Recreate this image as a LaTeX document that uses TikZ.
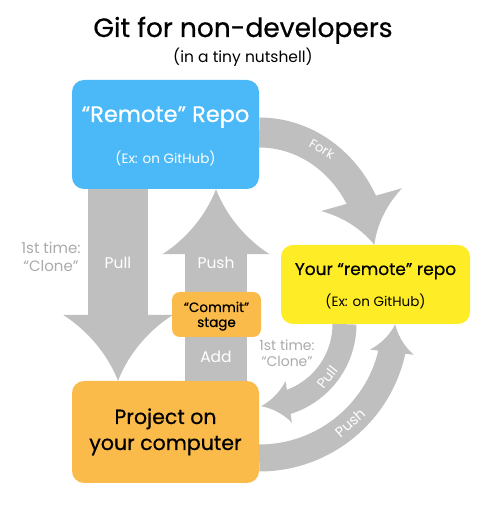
\documentclass[tikz,border=0pt]{standalone}
\usepackage{fontspec}
\setmainfont{Poppins}
\newfontfamily\heavyfont{Poppins}[FakeBold=0.6]
\usetikzlibrary{arrows.meta,bending}

\definecolor{repoblue}{HTML}{4BB9F7}
\definecolor{repoyellow}{HTML}{FEEC26}
\definecolor{localorange}{HTML}{FBBB4A}
\definecolor{arrowgrey}{HTML}{BFBFBF}
\definecolor{notegrey}{HTML}{ABABAB}

% fat arrow head with hollow sides
\pgfdeclarearrow{
  name = Chunky,
  parameters = {\the\pgfarrowlength,\the\pgfarrowwidth},
  setup code = {
    \pgfarrowssettipend{\pgfarrowlength}
    \pgfarrowssetlineend{.15\pgfarrowlength}
    \pgfarrowssetbackend{0pt}
    \pgfarrowshullpoint{\pgfarrowlength}{0pt}
    \pgfarrowsupperhullpoint{0pt}{.5\pgfarrowwidth}
    \pgfarrowssavethe\pgfarrowlength
    \pgfarrowssavethe\pgfarrowwidth
  },
  drawing code = {
    \pgfpathmoveto{\pgfqpoint{\pgfarrowlength}{0pt}}
    \pgfpathcurveto{\pgfqpoint{.7\pgfarrowlength}{.07\pgfarrowwidth}}
      {\pgfqpoint{.3\pgfarrowlength}{.22\pgfarrowwidth}}
      {\pgfqpoint{0pt}{.5\pgfarrowwidth}}
    \pgfpathlineto{\pgfqpoint{0pt}{-.5\pgfarrowwidth}}
    \pgfpathcurveto{\pgfqpoint{.3\pgfarrowlength}{-.22\pgfarrowwidth}}
      {\pgfqpoint{.7\pgfarrowlength}{-.07\pgfarrowwidth}}
      {\pgfqpoint{\pgfarrowlength}{0pt}}
    \pgfpathclose
    \pgfusepathqfill
  },
  defaults = {length=40pt, width=80pt}
}

\begin{document}
\begin{tikzpicture}[
  x=1pt, y=1pt,
  box/.style={rounded corners=12pt,inner sep=0pt},
  flow/.style={draw=arrowgrey,line width=#1},
  lbl/.style={inner sep=0pt,anchor=base},
  on arrow/.style={inner sep=0pt,text=white,font=\fontsize{15.5}{18}\selectfont},
  note/.style={inner sep=0pt,anchor=base,text=notegrey,font=\fontsize{15}{18}\selectfont}
]
  \fill[white] (0,0) rectangle (488,525);
  \useasboundingbox (0,0) rectangle (488,525);

  \node[lbl,font=\heavyfont\fontsize{26.5}{30}\selectfont] (title) at (243,488) {Git for non-developers};
  \node[lbl,font=\fontsize{15.5}{18}\selectfont] (subtitle) at (243,462) {(in a tiny nutshell)};

  \node[box,fill=repoblue,minimum width=187pt,minimum height=109pt] (remote) at (165.5,390.5) {};
  \node[box,fill=repoyellow,minimum width=189pt,minimum height=79pt] (yours) at (375.5,240.5) {};
  \node[box,fill=localorange,minimum width=187pt,minimum height=102pt] (project) at (165.5,93) {};

  \coordinate (pullx) at (118,0);
  \coordinate (pushx) at (216,0);

  \draw[flow=60pt,-{Chunky[length=66pt,width=110pt]}] (remote.south -| pullx) -- (project.north -| pullx);
  \draw[flow=62pt,-{Chunky[length=65pt,width=107pt]}] (project.north -| pushx) -- (remote.south -| pushx);
  \draw[flow=30pt,-{Chunky[length=47pt,width=84pt]}] ([yshift=2pt]remote.east)
    arc[start angle=90,end angle=7,x radius=116,y radius=128];
  \draw[flow=24pt,-{Chunky[length=28pt,width=42pt]}] ([xshift=-31pt]yours.south)
    arc[start angle=0,end angle=-91,radius=82];
  \draw[flow=27pt,-{Chunky[length=28pt,width=44pt]}] ([yshift=-26pt]project.east)
    arc[start angle=270,end angle=359,radius=136];

  \node[box,rounded corners=8pt,fill=localorange,minimum width=89pt,minimum height=45pt] (commit) at (216.5,210.5) {};

  % texts in the boxes
  \node[lbl,text=white,font=\heavyfont\fontsize{22.5}{26}\selectfont] (remotename) at (165.5,403) {“Remote” Repo};
  \node[lbl,text=white,font=\fontsize{13.5}{16}\selectfont] (remoteex) at (165.5,361) {(Ex: on GitHub)};
  \node[lbl,font=\heavyfont\fontsize{17}{20}\selectfont] (yoursname) at (375.5,250) {Your “remote” repo};
  \node[lbl,font=\fontsize{13.5}{16}\selectfont] (yoursex) at (375.5,218) {(Ex: on GitHub)};
  \node[lbl,font=\heavyfont\fontsize{20.5}{24}\selectfont] (projecta) at (165.5,101) {Project on};
  \node[lbl,font=\heavyfont\fontsize{20.5}{24}\selectfont] (projectb) at (165.5,75) {your computer};
  \node[lbl,font=\heavyfont\fontsize{13.5}{16}\selectfont] (commita) at (216.5,213) {“Commit”};
  \node[lbl,font=\heavyfont\fontsize{13.5}{16}\selectfont] (commitb) at (216.5,198) {stage};

  % texts on the arrows
  \node[on arrow,anchor=base] (pulltext) at (118,256) {Pull};
  \node[on arrow,anchor=base] (pushtext) at (216,256) {Push};
  \node[on arrow,anchor=base] (addtext) at (216,162) {Add};
  \node[on arrow,font=\fontsize{13}{15}\selectfont,rotate=-30] (forktext) at (322,376) {Fork};
  \node[on arrow,font=\fontsize{14}{16}\selectfont,rotate=52] (pullbend) at (327,148) {Pull};
  \node[on arrow,font=\fontsize{14.5}{17}\selectfont,rotate=42] (pushbend) at (350,102) {Push};

  \node[note] (clonea) at (51,271) {1st time:};
  \node[note] (cloneb) at (51,253) {“Clone”};
  \node[note,font=\fontsize{14}{16}\selectfont] (clonec) at (287,174) {1st time:};
  \node[note,font=\fontsize{14}{16}\selectfont] (cloned) at (287,158) {“Clone”};
\end{tikzpicture}
\end{document}
